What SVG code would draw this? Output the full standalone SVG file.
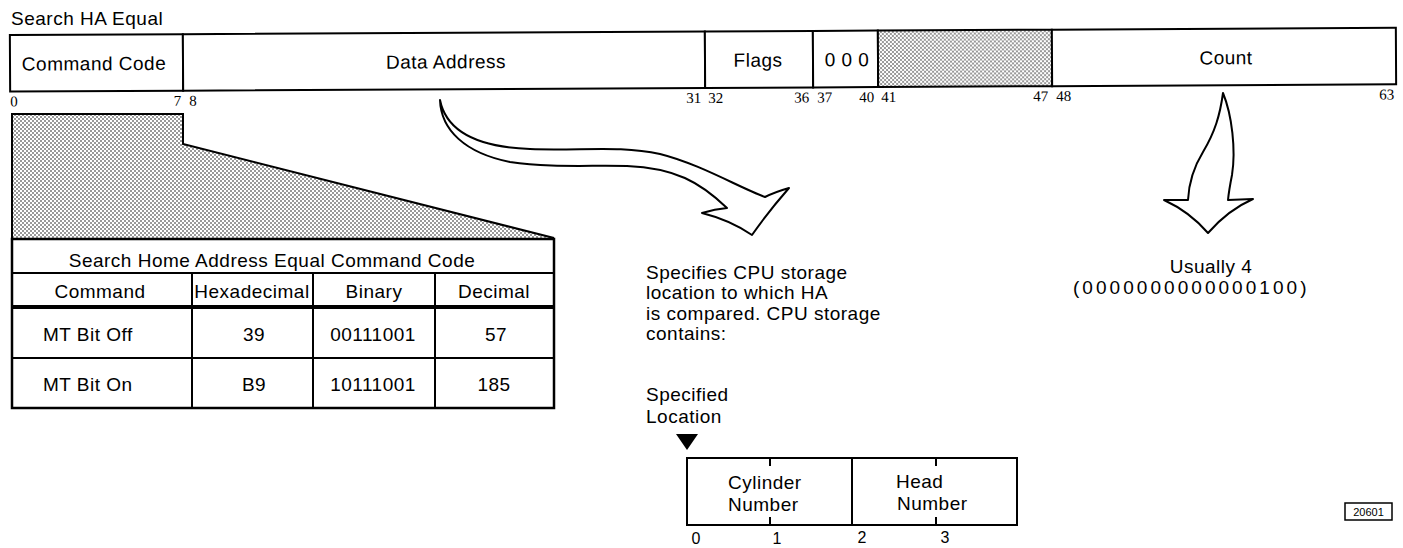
<svg xmlns="http://www.w3.org/2000/svg" width="1403" height="548" viewBox="0 0 1403 548">
<defs>
<pattern id="dots" width="4" height="4" patternUnits="userSpaceOnUse">
<rect width="4" height="4" fill="#fff"/>
<circle cx="1" cy="1" r="0.75" fill="#000"/>
<circle cx="3" cy="3" r="0.75" fill="#000"/>
</pattern>
</defs>
<style>
text{font-family:"Liberation Sans",Arial,sans-serif;font-size:19px;letter-spacing:0.5px;fill:#000}
.c{text-anchor:middle}
.e{text-anchor:end}
.n{font-family:"Liberation Serif","Times New Roman",serif;font-size:15px;letter-spacing:0}
.box{fill:#fff;stroke:#000;stroke-width:2}
.ln{stroke:#000;stroke-width:2;fill:none}
.arrow{fill:#fff;stroke:#000;stroke-width:2;stroke-linejoin:round}
.shade{fill:url(#dots)}
.small{font-size:16px;letter-spacing:0}
.fig{font-size:11px;letter-spacing:0}
</style>
<rect width="1403" height="548" fill="#fff"/>
<text x="11" y="25" id="title">Search HA Equal</text>

<g id="format" transform="rotate(-0.3 700 60)">
<g id="cmdcode"><rect class="box" x="10" y="31.5" width="173" height="56.5"/><text class="c" x="94" y="67">Command Code</text></g>
<g id="dataaddr"><rect class="box" x="183" y="31.5" width="522" height="56.5"/><text class="c" x="446" y="67">Data Address</text></g>
<g id="flags"><rect class="box" x="705" y="31.5" width="108" height="56.5"/><text class="c" x="758" y="67">Flags</text></g>
<g id="zeros"><rect class="box" x="813" y="31.5" width="65" height="56.5"/><text class="c" x="847" y="67">0 0 0</text></g>
<g id="reserved"><rect x="878" y="31.5" width="174" height="56.5" class="shade" stroke="#000" stroke-width="2"/></g>
<g id="count"><rect class="box" x="1052" y="31.5" width="344" height="56.5"/><text class="c" x="1226" y="67">Count</text></g>
<g id="bits">
<text class="n" x="10" y="103">0</text>
<text class="n e" x="181" y="103">7</text>
<text class="n" x="189" y="103">8</text>
<text class="n e" x="701" y="103">31</text>
<text class="n" x="708" y="103">32</text>
<text class="n e" x="809" y="103">36</text>
<text class="n" x="817" y="103">37</text>
<text class="n e" x="874" y="103">40</text>
<text class="n" x="881" y="103">41</text>
<text class="n e" x="1048" y="103">47</text>
<text class="n" x="1056" y="103">48</text>
<text class="n e" x="1394" y="103">63</text>
</g>
</g>

<g id="connectors">
<polygon id="callout" class="shade" points="12,114 183,114 183,144 554,238 12,238"/>
<path class="ln" d="M12,238 L12,114 L183,114 L183,144 L554,238"/>
<path id="arrow-data" class="arrow" d="M440,100 C446,130 475,147 530,149 C580,151 620,145 660,154 C700,164 740,188 765,197 Q775,192 789,188 Q768,212 752,235 Q730,220 702,213 Q715,209 727,208 C700,182 675,168 627,166 C590,165 550,168 510,162 C465,153 441,130 440,100 Z"/>
<path id="arrow-count" class="arrow" d="M1223,93 C1232,115 1236,150 1232,175 Q1229,190 1228,200 L1253,199 Q1228,210 1208,233 Q1190,212 1164,200 L1188,200 C1189,180 1195,165 1203,152 C1215,132 1220,115 1223,93 Z"/>
</g>

<g id="table">
<rect x="12" y="239" width="542" height="169" fill="#fff" stroke="#000" stroke-width="2.5"/>
<line class="ln" x1="12" y1="273" x2="554" y2="273"/>
<line x1="12" y1="307" x2="554" y2="307" stroke="#000" stroke-width="4"/>
<line class="ln" x1="12" y1="358" x2="554" y2="358"/>
<line class="ln" x1="192" y1="273" x2="192" y2="408"/>
<line class="ln" x1="313" y1="273" x2="313" y2="408"/>
<line class="ln" x1="435" y1="273" x2="435" y2="408"/>
<text class="c" x="272" y="267">Search Home Address Equal Command Code</text>
<text class="c" x="100" y="298">Command</text>
<text class="c" x="252" y="298" letter-spacing="0">Hexadecimal</text>
<text class="c" x="374" y="298">Binary</text>
<text class="c" x="494" y="298">Decimal</text>
<text x="43" y="341">MT Bit Off</text>
<text class="c" x="254" y="341">39</text>
<text class="c" x="373" y="341">00111001</text>
<text class="c" x="496" y="341">57</text>
<text x="43" y="391">MT Bit On</text>
<text class="c" x="254" y="391">B9</text>
<text class="c" x="373" y="391">10111001</text>
<text class="c" x="494" y="391">185</text>
</g>

<g id="cpu-note">
<text x="646" y="279">Specifies CPU storage</text>
<text x="646" y="299">location to which HA</text>
<text x="646" y="320">is compared.  CPU storage</text>
<text x="646" y="340">contains:</text>
</g>

<g id="count-note">
<text class="c" x="1211" y="273">Usually 4</text>
<text x="1073" y="294" textLength="234" lengthAdjust="spacing">(0000000000000100)</text>
</g>

<g id="specified">
<text x="646" y="401">Specified</text>
<text x="646" y="423">Location</text>
<polygon points="676,434 698,434 687,450" fill="#000"/>
</g>

<g id="storage">
<rect class="box" x="687" y="458" width="330" height="67"/>
<line class="ln" x1="852" y1="458" x2="852" y2="525"/>
<line class="ln" x1="770" y1="458" x2="770" y2="466"/>
<line class="ln" x1="770" y1="517" x2="770" y2="525"/>
<line class="ln" x1="936" y1="458" x2="936" y2="466"/>
<line class="ln" x1="936" y1="517" x2="936" y2="525"/>
<text x="728" y="489">Cylinder</text>
<text x="728" y="511">Number</text>
<text x="896" y="488">Head</text>
<text x="897" y="510">Number</text>
<text class="small c" x="696" y="544">0</text>
<text class="small c" x="777" y="544">1</text>
<text class="small c" x="862" y="543">2</text>
<text class="small c" x="945" y="543">3</text>
</g>

<g id="figno">
<rect x="1345" y="503" width="47" height="17" fill="#fff" stroke="#000" stroke-width="1.5"/>
<text class="fig c" x="1368.5" y="516">20601</text>
</g>
</svg>
